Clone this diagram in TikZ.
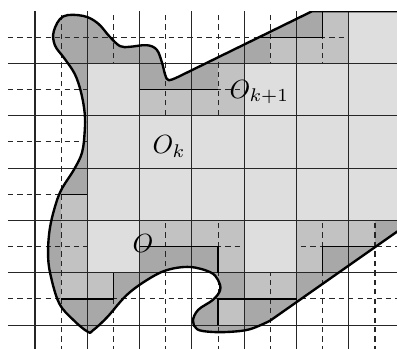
\documentclass[tikz,border=0pt]{standalone}
\definecolor{svetla}{gray}{0.87}
\definecolor{stredni}{gray}{0.76}
\definecolor{tmava}{gray}{0.66}
\tikzset{
  mrizka/.style={line width=0.4pt, black!85},
  polomrizka/.style={line width=0.4pt, black!85, dash pattern=on 2pt off 1.6pt},
  hranice/.style={line width=0.5pt, black},
  obrys/.style={line width=0.9pt, black, line join=round},
  popis/.style={inner sep=0pt, anchor=base west}
}
% hranice mnoziny O
\newcommand{\mnozinaO}{plot[smooth, tension=0.6] coordinates {
  (4.49,0.08) (4.11,-0.08) (3.73,-0.13) (3.35,-0.13) (3.10,-0.08) (3.02,0.08)
  (3.12,0.29) (3.40,0.48) (3.54,0.67) (3.50,0.86) (3.35,1.01) (2.96,1.11)
  (2.52,1.05) (2.14,0.86) (1.75,0.57) (1.38,0.15) (1.11,-0.10) (1.01,-0.13)
  (0.73,0.10) (0.46,0.42) (0.29,0.99) (0.25,1.38) (0.28,1.82) (0.37,2.22)
  (0.50,2.58) (0.75,2.98) (0.90,3.30) (0.95,3.70) (0.95,4.05) (0.88,4.45)
  (0.76,4.80) (0.56,5.10) (0.38,5.35) (0.36,5.62) (0.54,5.90) (0.92,5.91)
  (1.20,5.77) (1.43,5.51) (1.63,5.33) (1.82,5.32) (2.14,5.35) (2.33,5.26)
  (2.43,5.01) (2.49,4.78) (2.56,4.68) (2.77,4.76)}
  -- (5.30,6) -- (7.3,6) -- (7.3,2.05) -- cycle}

\begin{document}
\begin{tikzpicture}[x=0.7cm,y=0.7cm]
  \useasboundingbox (-0.669,-0.44) rectangle (6.921,6.214);
  \begin{scope}
    \clip (-0.669,-0.44) rectangle (6.921,6);

    % O
    \fill[tmava] \mnozinaO;

    % O_{k+1}
    \foreach \x/\y in {5.5/5.5, 4.5/5, 5/5, 5.5/5, 3.5/4.5, 2/4, 2.5/4, 3/4, 3.5/4,
        0.5/2, 0.5/1.5, 2/1.5, 2.5/1.5, 3/1.5, 3.5/1.5, 5/1.5, 5.5/1.5, 6/1.5,
        0.5/1, 3.5/1, 5/1, 0.5/0.5, 1/0.5, 4/0.5, 4.5/0.5, 3.5/0}
      \fill[stredni] (\x,\y) rectangle ++(0.5,0.5);

    \foreach \x in {0.5,1.5,...,6.5}
      \draw[polomrizka] (\x,-0.5) -- (\x,6);
    \foreach \y in {0.5,1.5,...,5.5}
      \draw[polomrizka] (-0.52,\y) -- (7,\y);

    % O_k
    \fill[svetla] (1,1) rectangle (2,5);
    \fill[svetla] (2,2) rectangle (7,4);
    \fill[svetla] (4,1) rectangle (5,2);
    \fill[svetla] (4,4) rectangle (7,5);
    \fill[svetla] (6,5) rectangle (7,6);

    \foreach \x in {0,...,6}
      \draw[mrizka] (\x,-0.5) -- (\x,6);
    \foreach \y in {0,...,5}
      \draw[mrizka] (-0.52,\y) -- (7,\y);

    \draw[hranice] (4.29,5.5) -- (5.5,5.5) -- (5.5,6);
    \draw[hranice] (2,4.5) -- (3.5,4.5);
    \draw[hranice] (0.5,2.5) -- (1,2.5);
    \draw[hranice] (0.5,0.5) -- (1.5,0.5) -- (1.5,1);
    \draw[hranice] (2,1.5) -- (3.5,1.5) -- (3.5,1);
    \draw[hranice] (5.5,1) -- (5.5,1.5) -- (6.5,1.5);
    \draw[hranice] (3.5,0) -- (3.5,0.5) -- (5,0.5);

    \draw[obrys] \mnozinaO;
  \end{scope}

  \node[popis] (Ok1) at (3.71,4.34) {$O_{k+1}$};
  \node[popis] (Ok) at (2.24,3.27) {$O_k$};
  \node[popis] (O) at (1.855,1.38) {$O$};
\end{tikzpicture}
\end{document}
